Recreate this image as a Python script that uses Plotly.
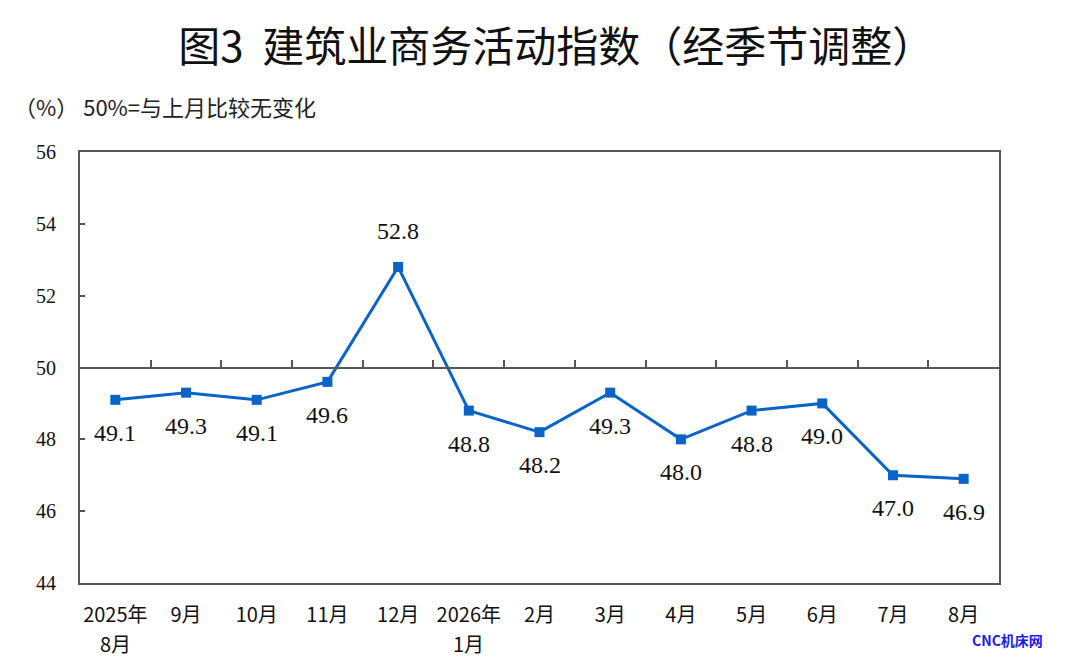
import plotly.graph_objects as go

categories = ["2025年<br>8月", "9月", "10月", "11月", "12月", "2026年<br>1月", "2月",
              "3月", "4月", "5月", "6月", "7月", "8月"]
values = [49.1, 49.3, 49.1, 49.6, 52.8, 48.8, 48.2, 49.3, 48.0, 48.8, 49.0, 47.0, 46.9]
label_above = [False, False, False, False, True, False, False, False, False, False, False, False, False]
y_ticks = [44, 46, 48, 50, 52, 54, 56]

LINE = "#0a64c8"
AX = "#555555"
SERIF = "Liberation Serif, Times New Roman, serif"
CJK = "Noto Sans CJK SC, sans-serif"

first_lines = [c.split("<br>")[0] for c in categories]

fig = go.Figure()
fig.add_trace(go.Scatter(
    x=categories, y=values, mode="lines+markers",
    line=dict(color=LINE, width=3),
    marker=dict(symbol="square", size=10, color=LINE),
    hoverinfo="skip", showlegend=False,
))
# invisible trace to activate the 50% reference axis
fig.add_trace(go.Scatter(
    x=categories, y=values, xaxis="x2", mode="markers",
    marker=dict(opacity=0), hoverinfo="skip", showlegend=False,
))

for c, v, up in zip(categories, values, label_above):
    fig.add_annotation(
        x=c, y=v, xref="x", yref="y", text=f"{v:.1f}", showarrow=False,
        yshift=36 if up else -33,
        font=dict(family=SERIF, size=24, color="#111111"),
    )

# second line of the two-line category labels
for c in categories:
    parts = c.split("<br>")
    if len(parts) > 1:
        fig.add_annotation(
            x=c, y=0, xref="x", yref="paper", text=parts[1], showarrow=False,
            yanchor="middle", yshift=-60, borderpad=0,
            font=dict(family=CJK, size=20, color="#111111"),
        )

fig.add_annotation(
    xref="paper", yref="paper", x=-0.074, y=1.065, xanchor="left", yanchor="bottom",
    text="（%） 50%=与上月比较无变化", showarrow=False,
    font=dict(family=CJK, size=22, color="#222222"),
)
fig.add_annotation(
    xref="paper", yref="paper", x=1.05, y=-0.132, xanchor="right", yanchor="middle",
    text="<b>CNC机床网</b>", showarrow=False,
    font=dict(family=CJK, size=14, color="#1a1aee"),
)

fig.update_layout(
    width=1080, height=670,
    margin=dict(l=80, r=81, t=152, b=87, autoexpand=False),
    paper_bgcolor="white", plot_bgcolor="white",
    title=dict(text="图3  建筑业商务活动指数（经季节调整）", x=0.515, xanchor="center",
               y=0.93, yanchor="middle",
               font=dict(family=CJK, size=42, color="#111111")),
    xaxis=dict(
        type="category", categoryorder="array", categoryarray=categories,
        tickvals=categories, ticktext=first_lines,
        range=[-0.5, len(categories) - 0.5], automargin=False,
        showline=True, linecolor=AX, linewidth=2, mirror=True,
        showgrid=False, ticks="", ticklabelstandoff=13,
        tickfont=dict(family=CJK, size=20, color="#111111"),
    ),
    xaxis2=dict(
        type="category", categoryorder="array", categoryarray=categories,
        range=[-0.5, len(categories) - 0.5], automargin=False,
        overlaying="x", anchor="free", position=(50 - 44) / (56 - 44),
        side="bottom", showline=True, linecolor=AX, linewidth=1.5,
        showgrid=False, showticklabels=False,
        ticks="inside", tickson="boundaries", ticklen=7, tickcolor=AX, tickwidth=1.5,
    ),
    yaxis=dict(
        range=[44, 56], tickvals=y_ticks, ticktext=[str(t) for t in y_ticks],
        automargin=False,
        showline=True, linecolor=AX, linewidth=2, mirror=True,
        showgrid=False, zeroline=False,
        ticks="inside", ticklen=5, tickcolor=AX, tickwidth=1.5,
        ticklabelstandoff=18,
        tickfont=dict(family=SERIF, size=20, color="#111111"),
    ),
)

fig.write_html("out.html", config={"displayModeBar": False},
               post_script="document.body.style.margin='0';")
